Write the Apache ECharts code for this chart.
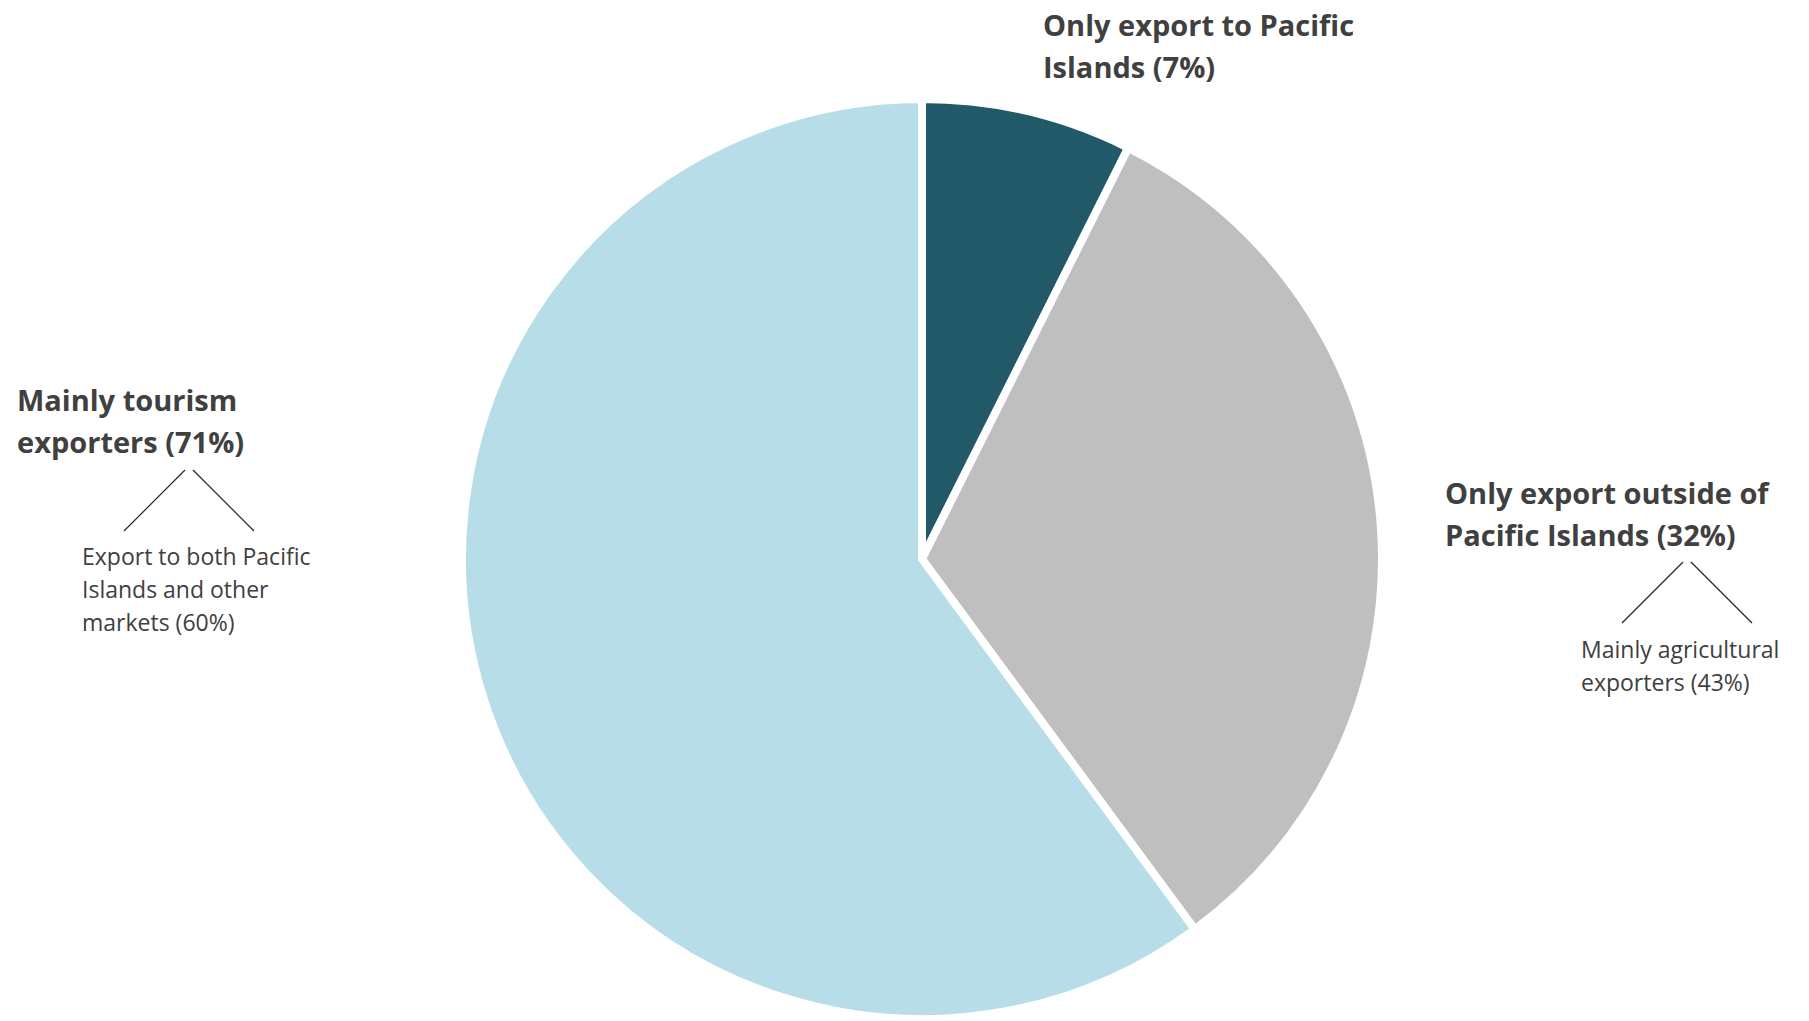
<!DOCTYPE html>
<html>
<head>
<meta charset="utf-8">
<script src="https://cdn.jsdelivr.net/npm/echarts@6/dist/echarts.min.js"></script>
<style>
    html, body { margin: 0; padding: 0; background: #fff; }
    #main { width: 1809px; height: 1021px; }
</style>
</head>
<body>
<div id="main"></div>
<script>
    // slices, clockwise from 12 o'clock (shares)
    var categories = ['Only export to Pacific Islands', 'Only export outside of Pacific Islands', 'Mainly tourism exporters'];
    var values = [7.4, 32.5, 60.1];
    var colors = ['#215968', '#bfbfbf', '#b7dde8'];

    // annotation texts
    var mainLabels = [
        'Only export to Pacific\nIslands (7%)',
        'Only export outside of\nPacific Islands (32%)',
        'Mainly tourism\nexporters (71%)'
    ];
    var subLabels = [
        null,
        'Mainly agricultural\nexporters (43%)',
        'Export to both Pacific\nIslands and other\nmarkets (60%)'
    ];

    var myChart = echarts.init(document.getElementById('main'), null, {renderer: 'svg'});

    var boldStyle = {fontFamily: 'Open Sans', fontWeight: 'bold', fontSize: 29, lineHeight: 42, fill: '#404040'};
    var smallStyle = {fontFamily: 'Open Sans', fontSize: 23, lineHeight: 33, fill: '#404040'};

    // where each annotation sits: [bold x, bold y, apex x, apex y, sub x, sub y]
    var spots = [
        [1043, 3, null, null, null, null],
        [1445, 471, 1687, 562, 1581, 632],
        [17, 378, 189, 470, 82, 539]
    ];

    var graphics = [];
    spots.forEach(function (s, i) {
        graphics.push({type: 'text', left: s[0], top: s[1],
            style: Object.assign({text: mainLabels[i]}, boldStyle)});
        if (subLabels[i]) {
            graphics.push({type: 'polyline', shape: {points: [[s[2] - 4, s[3]], [s[2] - 65, s[3] + 61]]},
                style: {stroke: '#262626', lineWidth: 1.2, fill: null}});
            graphics.push({type: 'polyline', shape: {points: [[s[2] + 4, s[3]], [s[2] + 65, s[3] + 61]]},
                style: {stroke: '#262626', lineWidth: 1.2, fill: null}});
            graphics.push({type: 'text', left: s[4], top: s[5],
                style: Object.assign({text: subLabels[i]}, smallStyle)});
        }
    });

    var option = {
        backgroundColor: '#fff',
        animation: false,
        series: [{
            type: 'pie',
            center: [922, 559],
            radius: [0, 460],
            startAngle: 90,
            clockwise: true,
            label: {show: false},
            labelLine: {show: false},
            itemStyle: {borderColor: '#fff', borderWidth: 8},
            emphasis: {disabled: true},
            data: categories.map(function (c, i) {
                return {name: c, value: values[i], itemStyle: {color: colors[i]}};
            })
        }],
        graphic: graphics
    };
    myChart.setOption(option);
</script>
</body>
</html>
